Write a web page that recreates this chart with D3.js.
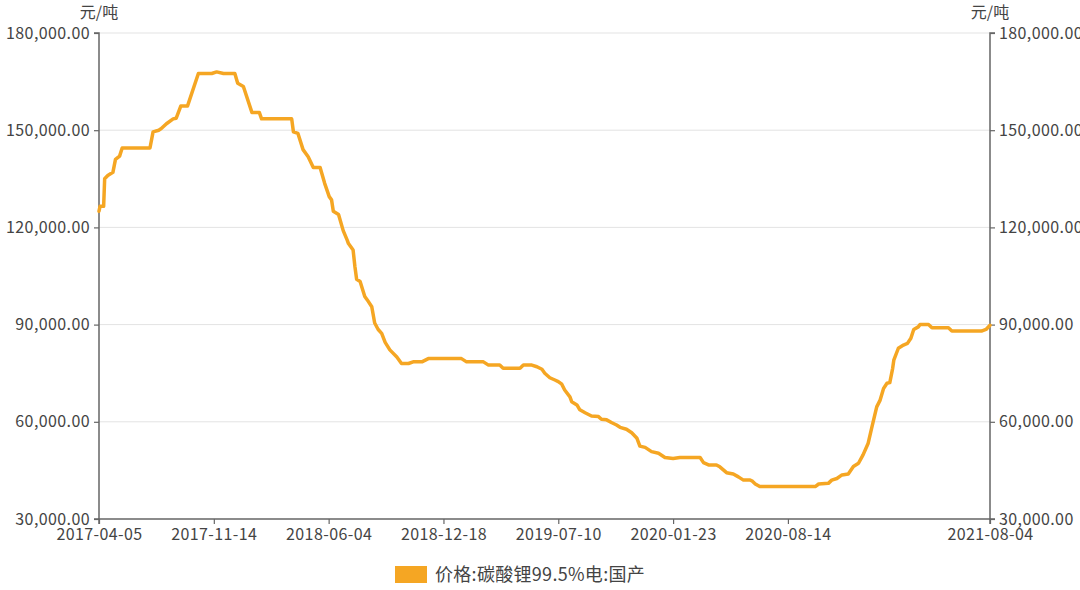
<!DOCTYPE html>
<html><head><meta charset="utf-8">
<script src="https://cdn.jsdelivr.net/npm/d3@7"></script>
<style>
html,body{margin:0;padding:0;background:#fff;}
svg{display:block;font-family:"Noto Sans CJK SC","Noto Sans",sans-serif;}
</style></head>
<body><svg id="chart" width="1080" height="590"></svg>
<script>
const dates = ["2017-04-05","2017-04-07","2017-04-14","2017-04-16","2017-04-22","2017-05-02","2017-05-07","2017-05-15","2017-05-20","2017-07-13","2017-07-19","2017-07-30","2017-08-04","2017-08-14","2017-08-27","2017-09-02","2017-09-11","2017-09-24","2017-10-15","2017-11-10","2017-11-19","2017-12-01","2017-12-21","2017-12-26","2018-01-05","2018-01-20","2018-02-02","2018-02-06","2018-03-31","2018-04-03","2018-04-11","2018-04-20","2018-04-29","2018-05-08","2018-05-20","2018-05-28","2018-06-05","2018-06-09","2018-06-12","2018-06-21","2018-06-29","2018-07-06","2018-07-08","2018-07-16","2018-07-19","2018-07-22","2018-07-28","2018-08-05","2018-08-09","2018-08-17","2018-08-22","2018-08-28","2018-09-03","2018-09-09","2018-09-17","2018-09-29","2018-10-07","2018-10-19","2018-10-27","2018-11-11","2018-11-22","2019-01-19","2019-01-28","2019-02-27","2019-03-08","2019-03-28","2019-04-03","2019-05-03","2019-05-09","2019-05-24","2019-06-02","2019-06-11","2019-06-16","2019-06-25","2019-07-04","2019-07-10","2019-07-16","2019-07-21","2019-07-30","2019-08-02","2019-08-11","2019-08-16","2019-08-25","2019-09-05","2019-09-17","2019-09-22","2019-10-01","2019-10-10","2019-10-18","2019-10-24","2019-11-04","2019-11-13","2019-11-22","2019-11-27","2019-12-06","2019-12-17","2019-12-29","2020-01-09","2020-01-23","2020-02-04","2020-03-11","2020-03-17","2020-03-26","2020-04-09","2020-04-15","2020-04-27","2020-05-09","2020-05-18","2020-05-27","2020-06-08","2020-06-11","2020-06-17","2020-06-25","2020-10-01","2020-10-07","2020-10-24","2020-10-30","2020-11-08","2020-11-17","2020-11-28","2020-12-07","2020-12-16","2020-12-24","2021-01-02","2021-01-08","2021-01-17","2021-01-23","2021-01-29","2021-02-04","2021-02-09","2021-02-14","2021-02-16","2021-02-24","2021-03-05","2021-03-12","2021-03-18","2021-03-23","2021-03-31","2021-04-03","2021-04-18","2021-04-24","2021-05-23","2021-05-29","2021-07-20","2021-07-28","2021-08-04"];
const prices = [125000,126500,126500,135000,136000,137000,141000,142000,144500,144500,149500,150000,150500,152000,153500,153700,157500,157500,167500,167500,168000,167500,167500,164500,163500,155500,155500,153500,153500,149500,149000,144000,141800,138500,138500,133600,129500,128500,125000,124000,119000,116000,115000,113000,108000,104000,103300,98700,97700,95500,90500,88500,87300,84500,82200,80000,78000,78000,78500,78500,79500,79500,78500,78500,77500,77500,76500,76500,77500,77500,77000,76200,75000,73600,72900,72400,71600,69800,67700,66200,65200,63700,62800,61800,61600,60800,60600,59700,59000,58300,57700,56600,54900,52500,52100,50800,50300,49000,48700,49000,49000,47400,46700,46700,46100,44300,43900,43000,42000,42000,41800,40800,40000,40000,40800,41000,42000,42500,43600,43900,46200,47200,49800,53400,58000,64600,66700,70300,71900,72100,76500,79000,82700,83700,84200,85800,88500,89300,90000,90000,89000,89000,88000,88000,88500,89800];
const tickDates = ["2017-04-05","2017-11-14","2018-06-04","2018-12-18","2019-07-10","2020-01-23","2020-08-14","2021-08-04"];
const tickSlots = [0,1,2,3,4,5,6,7.76];
const yTicks = [30000,60000,90000,120000,150000,180000];
const unitLabel = "元/吨";
const seriesName = "价格:碳酸锂99.5%电:国产";

const parse = d3.timeParse("%Y-%m-%d");
const L = 99, R = 990, T = 33, B = 519;
const svg = d3.select("#chart");

const slot = d3.scaleLinear().domain([0, tickSlots[tickSlots.length-1]]).range([L, R]);
const x = d3.scaleTime().domain(tickDates.map(parse)).range(tickSlots.map(slot));
const y = d3.scaleLinear().domain([30000, 180000]).range([B, T]);
const fmt = d3.format(",.2f");
const txt = "#444";
const axisCol = "#666";
const ff = '"Noto Sans CJK SC","Noto Sans",sans-serif';

// grid
svg.append("g").selectAll("line").data(yTicks.filter(v => v > 30000)).join("line")
  .attr("x1", L).attr("x2", R).attr("y1", d => y(d)).attr("y2", d => y(d))
  .attr("stroke", "#e3e3e3").attr("stroke-width", 1);

const gl = svg.append("g").attr("transform", `translate(${L},0)`)
  .call(d3.axisLeft(y).tickValues(yTicks).tickFormat(fmt).tickSize(5).tickPadding(4));
const gr = svg.append("g").attr("transform", `translate(${R},0)`)
  .call(d3.axisRight(y).tickValues(yTicks).tickFormat(fmt).tickSize(5).tickPadding(4));
const gb = svg.append("g").attr("transform", `translate(0,${B})`)
  .call(d3.axisBottom(x).tickValues(tickDates.map(parse)).tickFormat(d3.timeFormat("%Y-%m-%d")).tickSize(5).tickPadding(5));

[gl, gr, gb].forEach(g => {
  g.select(".domain").attr("stroke", axisCol).attr("stroke-width", 1.5);
  g.selectAll(".tick line").attr("stroke", axisCol).attr("stroke-width", 1.2);
  g.selectAll(".tick text").attr("fill", txt).style("font-size", "16px")
    .style("letter-spacing", "0.4px").style("font-family", ff);
});
gl.select(".domain").attr("d", `M-5,${T}H0V${B}H-5`);
gr.select(".domain").attr("d", `M5,${T}H0V${B}H5`);
gb.select(".domain").attr("d", `M${L},5V0H${R}V5`);

svg.append("text").attr("x", L).attr("y", 18).attr("text-anchor", "middle")
  .attr("fill", txt).style("font-size", "16px").text(unitLabel);
svg.append("text").attr("x", R).attr("y", 18).attr("text-anchor", "middle")
  .attr("fill", txt).style("font-size", "16px").text(unitLabel);

const data = dates.map((d, i) => ({ d: parse(d), v: prices[i] }));
svg.append("path").datum(data)
  .attr("fill", "none").attr("stroke", "#f5a623").attr("stroke-width", 3.5)
  .attr("stroke-linejoin", "round").attr("stroke-linecap", "round")
  .attr("d", d3.line().x(p => x(p.d)).y(p => y(p.v)));

const lg = svg.append("g");
lg.append("rect").attr("x", 395).attr("y", 566).attr("width", 32).attr("height", 17)
  .attr("fill", "#f5a623");
lg.append("text").attr("x", 435).attr("y", 581).attr("fill", txt)
  .style("font-size", "18px").style("letter-spacing", "0.3px").text(seriesName);
</script></body></html>
